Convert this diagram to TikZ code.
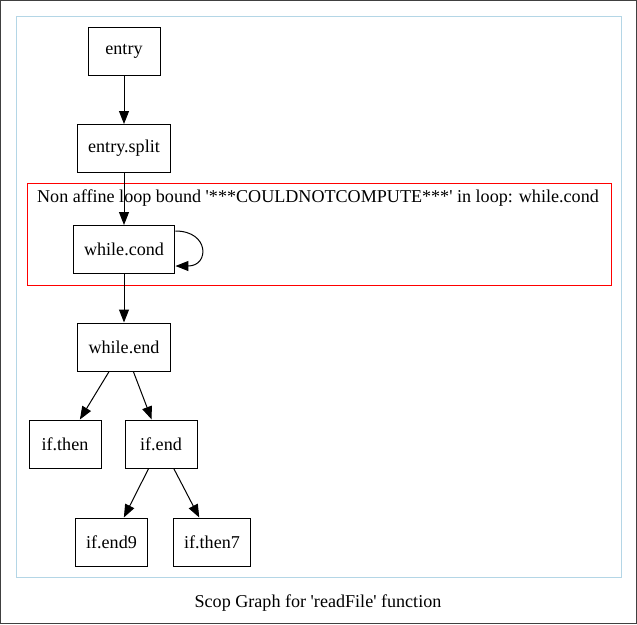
\documentclass[tikz,border=0pt]{standalone}
\usepackage{fontspec}
\setmainfont{Liberation Serif}
\usetikzlibrary{arrows.meta,positioning}

\newcommand{\sq}{\textquotesingle}
\definecolor{scopred}{RGB}{255,0,0}
\definecolor{scopblue}{RGB}{180,214,230}

\begin{document}
\begin{tikzpicture}[x=1pt,y=-1pt, line width=1pt,
        every node/.style={font=\fontsize{18.1}{20}\selectfont},
        bb/.style={draw, rectangle, minimum width=72pt, minimum height=48pt, inner xsep=11pt},
        arr/.style={-{Triangle[length=13pt,width=10pt]}}]
        \useasboundingbox (0,0) rectangle (637,624);
        \draw[draw=black!75] (0.5,0.5) rectangle (636.5,623.5);
        \draw[draw=scopblue] (16.5,16.5) rectangle (621.5,577.5);
        \draw[draw=scopred] (27.5,183.5) rectangle (611.5,285.5);
        \node (lbl) at (318,198) {Non affine loop bound \sq***COULDNOTCOMPUTE***\sq{} in loop: while.cond};
        \node (cap) at (318,603) {Scop Graph for \sq readFile\sq{} function};

        \node[bb] (entry) at (124,51) {entry};
        \node[bb] (split) at (124,148.5) {entry.split};
        \node[bb] (wcond) at (124,249.5) {while.cond};
        \node[bb] (wend) at (124,347) {while.end};
        \node[bb] (ithen) at (65,444) {if.then};
        \node[bb] (iend) at (161,444) {if.end};
        \node[bb] (iend9) at (111.5,542) {if.end9};
        \node[bb] (ithen7) at (212,542) {if.then7};

        \draw[arr] (entry) -- (split);
        \draw[arr] (split) -- (wcond);
        \draw[arr] ([yshift=-6]wcond.north east) to[out=0,in=0,looseness=2.5] ([yshift=8]wcond.south east);
        \draw[arr] (wcond) -- (wend);
        \draw[arr] (wend) -- (ithen);
        \draw[arr] (wend) -- (iend);
        \draw[arr] (iend) -- (iend9);
        \draw[arr] (iend) -- (ithen7);
    \end{tikzpicture}
\end{document}
